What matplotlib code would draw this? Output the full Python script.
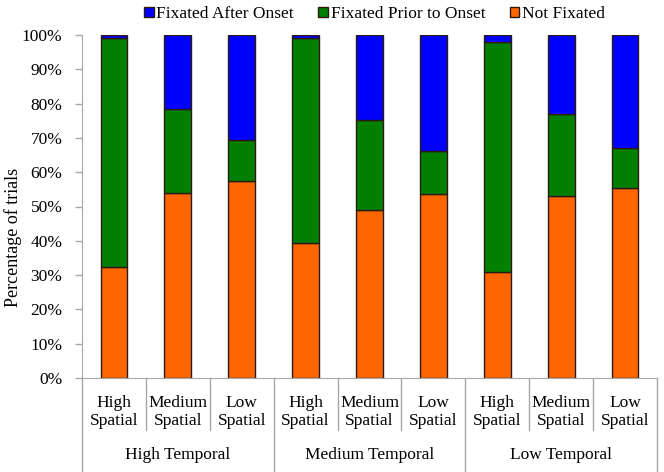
import matplotlib
matplotlib.use("Agg")
import matplotlib.pyplot as plt
import matplotlib.ticker as ticker
from matplotlib.patches import Patch

# ---------------- Data ----------------
spatial = ["High\nSpatial", "Medium\nSpatial", "Low\nSpatial"] * 3
temporal = ["High Temporal", "Medium Temporal", "Low Temporal"]

not_fixated = [32.5, 54.0, 57.5, 39.5, 49.0, 53.5, 31.0, 53.0, 55.5]
fixated_prior = [66.5, 24.5, 12.0, 59.5, 26.3, 12.7, 66.8, 24.0, 11.5]
fixated_after = [1.0, 21.5, 30.5, 1.0, 24.7, 33.8, 2.2, 23.0, 33.0]

C_ORANGE = "#ff6600"
C_GREEN = "#007f00"
C_BLUE = "#0000ff"
EDGE = "#2a1a10"
GRAY = "#a8a8a8"
FS = 12.5

plt.rcParams["font.family"] = ["Liberation Serif", "DejaVu Serif"]
plt.rcParams["font.size"] = FS

fig = plt.figure(figsize=(6.64, 4.72), dpi=100)
ax = fig.add_axes([0.1235, 0.199, 0.866, 0.727])

x = list(range(len(not_fixated)))
w = 0.42
bottom2 = [a + b for a, b in zip(not_fixated, fixated_prior)]
ax.bar(x, not_fixated, w, color=C_ORANGE, edgecolor=EDGE, linewidth=1)
ax.bar(x, fixated_prior, w, bottom=not_fixated, color=C_GREEN, edgecolor=EDGE, linewidth=1)
ax.bar(x, fixated_after, w, bottom=bottom2, color=C_BLUE, edgecolor=EDGE, linewidth=1)

ax.set_xlim(-0.5, len(x) - 0.5)
ax.set_ylim(0, 100)
ax.yaxis.set_major_locator(ticker.MultipleLocator(10))
ax.yaxis.set_major_formatter(ticker.FuncFormatter(lambda v, p: f"{int(v)}%"))
ax.set_ylabel("Percentage of trials", fontsize=13)
ax.yaxis.set_label_coords(-0.104, 0.41)

for s in ["top", "right"]:
    ax.spines[s].set_visible(False)
ax.spines["left"].set_color(GRAY)
ax.spines["bottom"].set_color(GRAY)
ax.tick_params(axis="y", color=GRAY, length=5, width=1, pad=9, labelsize=FS)
ax.set_xticks([])

# ---------------- Multi-level category axis ----------------
trans = ax.get_xaxis_transform()
for i in range(len(x) + 1):
    xb = i - 0.5
    low = -0.32 if i % 3 == 0 else -0.152
    ax.plot([xb, xb], [0, low], color=GRAY, lw=1, transform=trans, clip_on=False)

for i, lab in enumerate(spatial):
    ax.text(i, -0.098, lab, transform=trans, ha="center", va="center",
            fontsize=FS, linespacing=1.15)

for g, lab in enumerate(temporal):
    ax.text(g * 3 + 1, -0.224, lab, transform=trans, ha="center", va="center",
            fontsize=FS)

# ---------------- Legend ----------------
handles = [
    Patch(facecolor=C_BLUE, edgecolor=EDGE, label="Fixated After Onset"),
    Patch(facecolor=C_GREEN, edgecolor=EDGE, label="Fixated Prior to Onset"),
    Patch(facecolor=C_ORANGE, edgecolor=EDGE, label="Not Fixated"),
]
fig.legend(handles=handles, loc="center", bbox_to_anchor=(0.564, 0.970), ncol=3,
           frameon=False, fontsize=12.5, handlelength=0.55, handleheight=0.55,
           handletextpad=0.15, columnspacing=1.4, borderaxespad=0)

fig.savefig("out.png", dpi=100)
